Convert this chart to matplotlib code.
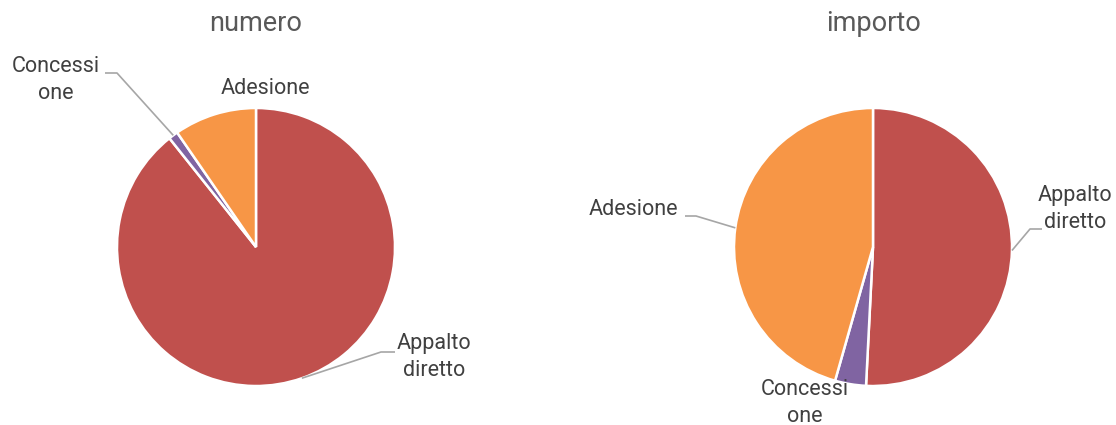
import numpy as np
import matplotlib.pyplot as plt

plt.rcParams['font.family'] = ['Roboto', 'DejaVu Sans']

# data
categories = ['Appalto diretto', 'Concessione', 'Adesione']
numero = [89.3, 1.1, 9.6]
importo = [50.8, 3.6, 45.6]
colors = ['#C0504D', '#8064A2', '#F79646']

W, H = 1116, 425
fig = plt.figure(figsize=(W / 100, H / 100), dpi=100)
ax = fig.add_axes([0, 0, 1, 1])

label_color = '#404040'
title_color = '#595959'
line_color = '#A6A6A6'
R = 139


def y(v):
    # pixel rows counted from the top
    return H - v


def draw_pie(values, cx, cy, title, labels):
    wedges, _ = ax.pie(values, colors=colors, startangle=90, counterclock=False,
                       center=(cx, y(cy)), radius=R, frame=True,
                       wedgeprops=dict(edgecolor='white', linewidth=1.8))
    ax.text(cx, y(23), title, ha='center', va='center', fontsize=19.5, color=title_color)
    for w, (txt, tx, ty, leader) in zip(wedges, labels):
        ax.text(tx, y(ty), txt, ha='center', va='center', fontsize=15.5,
                color=label_color, linespacing=1.4)
        if leader is None:
            continue
        mid = np.deg2rad((w.theta1 + w.theta2) / 2)
        ax0 = cx + R * np.cos(mid)
        ay0 = y(cy) + R * np.sin(mid)
        (ex, ey), (fx, fy) = leader
        ax.plot([ax0, ex, fx], [ay0, y(ey), y(fy)], color=line_color, lw=1.2,
                solid_capstyle='butt')


draw_pie(numero, 256, 247, 'numero', [
    ('Appalto\ndiretto', 434, 357, ((381, 352), (395, 352))),
    ('Concessi\none', 56, 80, ((117, 73), (105, 73))),
    ('Adesione', 265, 88, None),
])
draw_pie(importo, 873, 247, 'importo', [
    ('Appalto\ndiretto', 1075, 209, ((1030, 229), (1042, 229))),
    ('Concessi\none', 805, 403, None),
    ('Adesione', 633, 209, ((696, 216), (685, 216))),
])

ax.set_xlim(0, W)
ax.set_ylim(0, H)
ax.set_aspect('equal')
ax.axis('off')

fig.savefig('out.png', dpi=100)
